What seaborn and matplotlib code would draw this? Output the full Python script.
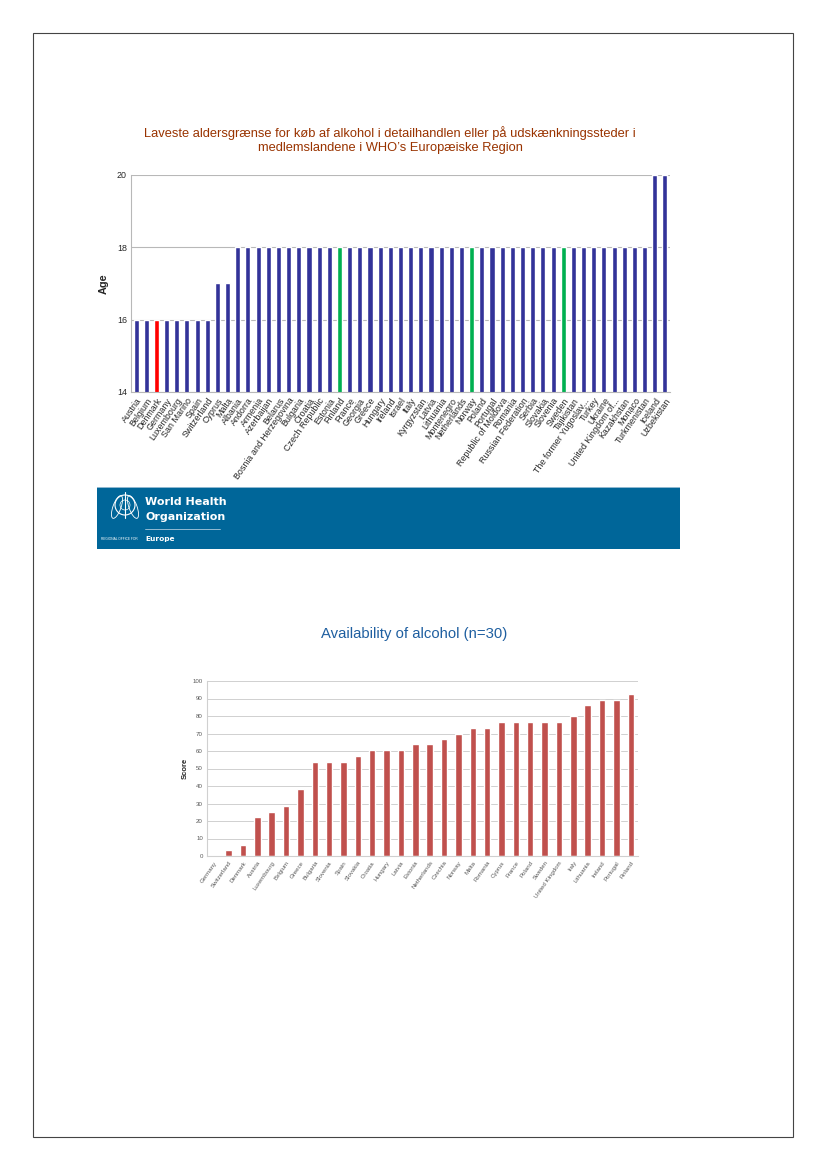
import seaborn as sns
import matplotlib
matplotlib.use('Agg')
import matplotlib.pyplot as plt
from matplotlib.patches import Rectangle, Circle, Ellipse
import pandas as pd

sns.set_style('white')
plt.rcParams['font.family'] = ['Liberation Sans', 'DejaVu Sans']

# top chart: minimum legal age
age_countries = ['Austria', 'Belgium', 'Denmark', 'Germany', 'Luxembourg', 'San Marino', 'Spain',
                 'Switzerland', 'Cyprus', 'Malta', 'Albania', 'Andorra', 'Armenia', 'Azerbaijan',
                 'Belarus', 'Bosnia and Herzegovina', 'Bulgaria', 'Croatia', 'Czech Republic',
                 'Estonia', 'Finland', 'France', 'Georgia', 'Greece', 'Hungary', 'Ireland', 'Israel',
                 'Italy', 'Kyrgyzstan', 'Latvia', 'Lithuania', 'Montenegro', 'Netherlands', 'Norway',
                 'Poland', 'Portugal', 'Republic of Moldova', 'Romania', 'Russian Federation',
                 'Serbia', 'Slovakia', 'Slovenia', 'Sweden', 'Tajikistan', 'The former Yugoslav...',
                 'Turkey', 'Ukraine', 'United Kingdom of...', 'Kazakhstan', 'Monaco',
                 'Turkmenistan', 'Iceland', 'Uzbekistan']
ages = [16, 16, 16, 16, 16, 16, 16, 16, 17, 17] + [18] * 41 + [20, 20]
highlight_red = ['Denmark']
highlight_green = ['Finland', 'Norway', 'Sweden']
age_ticks = [14, 16, 18, 20]

# bottom chart: availability score
avail_countries = ['Germany', 'Switzerland', 'Denmark', 'Austria', 'Luxembourg', 'Belgium',
                   'Greece', 'Bulgaria', 'Slovenia', 'Spain', 'Slovakia', 'Croatia', 'Hungary',
                   'Latvia', 'Estonia', 'Netherlands', 'Czechia', 'Norway', 'Malta', 'Romania',
                   'Cyprus', 'France', 'Poland', 'Sweden', 'United Kingdom', 'Italy', 'Lithuania',
                   'Ireland', 'Portugal', 'Finland']
scores = [0, 3.3, 6.1, 22.3, 25.4, 28.6, 38.2, 54, 54, 54, 57.2, 60.5, 60.5, 60.5, 63.8, 63.8,
          66.8, 70, 73.4, 73.4, 76.7, 76.7, 76.7, 76.7, 76.7, 80, 86.2, 89.3, 89.3, 92.7]
score_ticks = list(range(0, 101, 10))

W, H = 827, 1170
fig = plt.figure(figsize=(W / 100, H / 100), dpi=100)

def fbox(x0, y0, x1, y1):
    return [x0 / W, 1 - y1 / H, (x1 - x0) / W, (y1 - y0) / H]

# page border
fig.patches.append(Rectangle((33 / W, 1 - 1137 / H), 760 / W, 1104 / H, transform=fig.transFigure,
                             fill=False, edgecolor='#444444', linewidth=0.8))

# ---- chart 1
fig.text(390 / W, 1 - 140 / H,
         'Laveste aldersgrænse for køb af alkohol i detailhandlen eller på udskænkningssteder i\n'
         'medlemslandene i WHO\u2019s Europæiske Region',
         ha='center', va='center', fontsize=9.3, color='#993300', linespacing=1.2)

ax1 = fig.add_axes(fbox(131, 175, 670, 392))
df1 = pd.DataFrame({'country': age_countries, 'age': ages})
pal1 = {c: ('#ff0000' if c in highlight_red else '#00b050' if c in highlight_green else '#333399')
        for c in age_countries}
ax1.yaxis.grid(True, color='#b8b8b8', linewidth=0.8)
ax1.set_axisbelow(True)
sns.barplot(data=df1, x='country', y='age', hue='country', palette=pal1, legend=False,
            width=0.5, dodge=False, ax=ax1, saturation=1)
ax1.set_ylim(14, 20)
ax1.set_yticks(age_ticks)
ax1.set_xlim(-0.5, len(age_countries) - 0.5)
for s in ['top', 'right']:
    ax1.spines[s].set_visible(False)
for s in ['left', 'bottom']:
    ax1.spines[s].set_color('#b8b8b8')
    ax1.spines[s].set_linewidth(0.8)
ax1.tick_params(axis='both', length=0, labelsize=6.4, pad=3)
ax1.set_xticks(range(len(age_countries)))
ax1.set_xticklabels(age_countries, rotation=55, ha='right', rotation_mode='anchor')
ax1.set_xlabel('')
ax1.set_ylabel('Age', fontsize=7.8, fontweight='bold', labelpad=6)

# ---- WHO banner
axb = fig.add_axes(fbox(97, 487, 680, 549))
axb.set_xlim(0, 583)
axb.set_ylim(62, 0)
axb.axis('off')
axb.add_patch(Rectangle((0, 0), 583, 62, facecolor='#006699', edgecolor='none'))
axb.add_patch(Rectangle((0, 0), 583, 1.2, facecolor='#8fb8d0', edgecolor='none'))
axb.add_patch(Circle((28, 18), 10, fill=False, edgecolor='white', linewidth=0.8))
axb.add_patch(Circle((28, 18), 5, fill=False, edgecolor='white', linewidth=0.5))
axb.add_patch(Ellipse((20, 20), 8, 24, angle=20, fill=False, edgecolor='white', linewidth=0.6))
axb.add_patch(Ellipse((36, 20), 8, 24, angle=-20, fill=False, edgecolor='white', linewidth=0.6))
axb.plot([28, 28], [5, 31], color='white', linewidth=0.8)
axb.text(48, 15, 'World Health', color='white', fontsize=8.0, va='center', fontweight='bold',
         family=['DejaVu Sans Condensed', 'DejaVu Sans'])
axb.text(48, 30, 'Organization', color='white', fontsize=8.0, va='center', fontweight='bold',
         family=['DejaVu Sans Condensed', 'DejaVu Sans'])
axb.plot([48, 123], [41.5, 41.5], color='#a9c9dd', linewidth=0.6)
axb.text(4, 51.5, 'REGIONAL OFFICE FOR', color='white', fontsize=2.3, va='center')
axb.text(48, 51.5, 'Europe', color='white', fontsize=5.3, va='center', fontweight='bold',
         family=['DejaVu Sans Condensed', 'DejaVu Sans'])

# ---- chart 2
fig.text(414 / W, 1 - 634 / H, 'Availability of alcohol (n=30)', ha='center', va='center',
         fontsize=10.7, color='#1f5fa0')

ax2 = fig.add_axes(fbox(207, 681, 638, 856))
df2 = pd.DataFrame({'country': avail_countries, 'score': scores})
ax2.yaxis.grid(True, color='#d0d0d0', linewidth=0.7)
ax2.set_axisbelow(True)
sns.barplot(data=df2, x='country', y='score', color='#c0504d', width=0.45, ax=ax2, saturation=1)
ax2.set_ylim(0, 100)
ax2.set_yticks(score_ticks)
ax2.set_xlim(-0.5, len(avail_countries) - 0.5)
for s in ['top', 'right']:
    ax2.spines[s].set_visible(False)
for s in ['left', 'bottom']:
    ax2.spines[s].set_color('#d0d0d0')
    ax2.spines[s].set_linewidth(0.8)
ax2.tick_params(axis='both', length=0, labelsize=4.4, pad=3, colors='#595959')
ax2.set_xticks(range(len(avail_countries)))
ax2.set_xticklabels(avail_countries, rotation=55, ha='right', rotation_mode='anchor')
ax2.set_xlabel('')
ax2.set_ylabel('Score', fontsize=5.5, fontweight='bold', labelpad=3)

fig.savefig('out.png', dpi=100)
